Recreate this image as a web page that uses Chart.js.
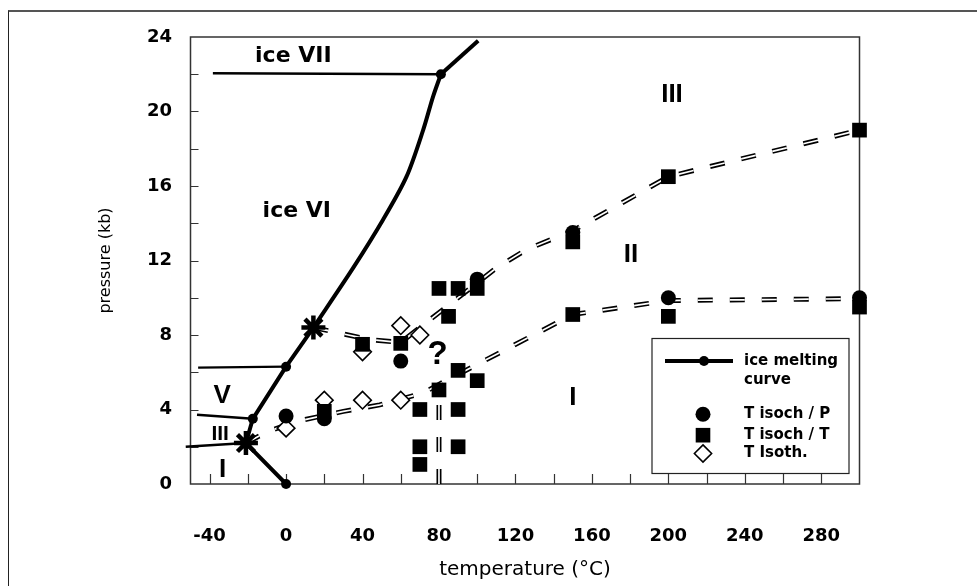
<!DOCTYPE html>
<html><head><meta charset="utf-8">
<script src="https://cdn.jsdelivr.net/npm/chart.js@4.4.1/dist/chart.umd.min.js"></script>
<style>
html,body{margin:0;padding:0;background:#fff;}
#wrap{position:relative;width:977px;height:586px;overflow:hidden;background:#fff;}
#frame{position:absolute;left:8px;top:10px;width:1000px;height:600px;border-left:1.5px solid #222;border-top:2px solid #555;}
canvas{position:absolute;left:0;top:0;}
</style></head><body>
<div id="wrap"><div id="frame"></div><canvas id="c" width="977" height="586"></canvas></div>
<script>
// ---- tick labels ----
const xTickLabels = [-40, 0, 40, 80, 120, 160, 200, 240, 280];
const xMinorTicks = [-40, -20, 0, 20, 40, 60, 80, 100, 120, 140, 160, 180, 200, 220, 240, 260, 280];
const yTickLabels = [0, 4, 8, 12, 16, 20, 24];
const yMinorTicks = [0, 2, 4, 6, 8, 10, 12, 14, 16, 18, 20, 22, 24];

// ---- ice melting curve (temperature °C, pressure kb) ----
const meltLowT = [0, -21, -17.4, 0, 14.3];
const meltLowP = [0, 2.2, 3.5, 6.3, 8.4];
const meltHighT = [14.3, 35.1, 50.8, 63, 71.7, 76.9, 81];
const meltHighP = [8.4, 11.6, 14.2, 16.5, 19.0, 20.8, 22.0];
const meltTopT = [81, 100.5];
const meltTopP = [22.0, 23.8];
const meltMarkT = [0, -17.4, 0, 81];
const meltMarkP = [0, 3.5, 6.3, 22.0];
const tripleT = [-21, 14.3];
const tripleP = [2.2, 8.4];

// ---- solid phase boundaries ----
const bVII_T = [-38.3, 81];   const bVII_P = [22.05, 22.0];
const bV_T = [-46, 0];        const bV_P = [6.25, 6.3];
const bIII_T = [-46.6, -17.4];const bIII_P = [3.72, 3.5];
const bI_T = [-52.5, -21];    const bI_P = [2.0, 2.2];

// ---- dashed double boundaries ----
const lowT = [-21, -10, 5, 30, 49, 72, 80, 150, 200, 300];
const lowP = [2.2, 2.8, 3.35, 3.9, 4.25, 4.9, 5.35, 9.1, 9.85, 9.95];
const upT = [14.3, 44, 60, 100, 110, 126, 150, 200, 300];
const upP = [8.4, 7.75, 7.6, 10.8, 11.6, 12.6, 13.6, 16.5, 19.0];
const vertT = [80, 80];
const vertP = [0, 5];

// ---- measured points ----
const circT = [0, 20, 60, 100, 150, 200, 300];
const circP = [3.65, 3.5, 6.6, 11.0, 13.5, 10.0, 10.0];
const sqT = [20, 40, 60, 70, 70, 70, 80, 80, 85, 90, 90, 90, 90, 100, 100, 150, 150, 200, 200, 300, 300];
const sqP = [3.9, 7.5, 7.55, 4.0, 2.0, 1.05, 10.5, 5.05, 9.0, 10.5, 6.1, 4.0, 2.0, 10.5, 5.55, 13.0, 9.1, 16.5, 9.0, 19.0, 9.5];
const diaT = [0, 20, 40, 40, 60, 60, 70];
const diaP = [3.0, 4.5, 7.1, 4.5, 8.5, 4.5, 8.0];

// ---- region labels ----
const regionText = ['ice VII', 'ice VI', 'V', 'III', 'I', '?', 'III', 'II', 'I'];
const regionT = [3.8, 5.6, -33.4, -34.5, -33.2, 79.2, 201.9, 180.5, 150];
const regionP = [22.95, 14.63, 4.76, 2.70, 0.77, 6.94, 20.9, 12.3, 4.6];

const legendNames = ['ice melting', 'curve', 'T isoch / P', 'T isoch / T', 'T Isoth.'];

const pts = (T, P) => T.map((t, i) => ({x: t, y: P[i]}));

function labelFont(s, t) {
  if (s.startsWith('ice')) return 'bold 22px "DejaVu Sans"';
  if (s === '?') return 'bold 33px "Liberation Sans"';
  if (s === 'III' && t < 0) return 'bold 21px "Liberation Sans"';
  return 'bold 26px "Liberation Sans"';
}

const solid = (T, P, w, extra) => Object.assign({data: pts(T, P), showLine: true, borderColor: '#000', borderWidth: w, pointRadius: 0, fill: false, order: 5, borderJoinStyle: 'round'}, extra || {});
const DASH = [15, 17];
const dashBlack = (T, P) => ({data: pts(T, P), showLine: true, borderColor: '#000', borderWidth: 5, borderDash: DASH, pointRadius: 0, fill: false, order: 4});
const dashWhite = (T, P) => ({data: pts(T, P), showLine: true, borderColor: '#fff', borderWidth: 1.7, borderDash: DASH, pointRadius: 0, fill: false, order: 3});

const decor = {
  id: 'decor',
  beforeDatasetsDraw(chart) {
    const {ctx, chartArea: a, scales: {x, y}} = chart;
    ctx.save();
    ctx.strokeStyle = '#333'; ctx.lineWidth = 1.5;
    ctx.strokeRect(a.left, a.top, a.right - a.left, a.bottom - a.top);
    ctx.beginPath();
    x.ticks.forEach(t => {
      if (t.value > x.min && t.value < x.max) {
        const px = Math.round(x.getPixelForValue(t.value)) + 0.5;
        ctx.moveTo(px, a.bottom); ctx.lineTo(px, a.bottom - 10);
      }
    });
    y.ticks.forEach(t => {
      if (t.value > y.min && t.value < y.max) {
        const py = Math.round(y.getPixelForValue(t.value)) + 0.5;
        ctx.moveTo(a.left, py); ctx.lineTo(a.left + 8, py);
      }
    });
    ctx.lineWidth = 1.2; ctx.stroke();
    ctx.restore();
  },
  afterDatasetsDraw(chart) {
    const {ctx, scales: {x, y}} = chart;
    ctx.save();
    ctx.fillStyle = '#000'; ctx.textAlign = 'center'; ctx.textBaseline = 'middle';
    regionText.forEach((s, i) => {
      ctx.font = labelFont(s, regionT[i]);
      ctx.fillText(s, x.getPixelForValue(regionT[i]), y.getPixelForValue(regionP[i]));
    });
    // legend
    const L = 652, T = 338.5, W = 197, H = 135;
    ctx.fillStyle = '#fff'; ctx.fillRect(L, T, W, H);
    ctx.strokeStyle = '#222'; ctx.lineWidth = 1.2; ctx.strokeRect(L, T, W, H);
    ctx.fillStyle = '#000'; ctx.strokeStyle = '#000';
    const mx = L + 51;
    ctx.lineWidth = 4; ctx.beginPath(); ctx.moveTo(L + 13, T + 22.5); ctx.lineTo(L + 81, T + 22.5); ctx.stroke();
    ctx.beginPath(); ctx.arc(mx + 1, T + 22.5, 5, 0, Math.PI * 2); ctx.fill();
    ctx.beginPath(); ctx.arc(mx, T + 75.7, 7.5, 0, Math.PI * 2); ctx.fill();
    ctx.fillRect(mx - 7.3, T + 96.7 - 7.3, 14.6, 14.6);
    ctx.beginPath(); const dy = T + 115, r = 8.6;
    ctx.moveTo(mx, dy - r); ctx.lineTo(mx + r, dy); ctx.lineTo(mx, dy + r); ctx.lineTo(mx - r, dy); ctx.closePath();
    ctx.fillStyle = '#fff'; ctx.fill(); ctx.lineWidth = 1.6; ctx.stroke();
    ctx.fillStyle = '#000'; ctx.font = 'bold 15px "DejaVu Sans"'; ctx.textAlign = 'left';
    const ty = [T + 22.5, T + 42, T + 75.7, T + 96.7, T + 115];
    legendNames.forEach((s, i) => ctx.fillText(s, L + 92, ty[i]));
    ctx.restore();
  }
};

new Chart(document.getElementById('c'), {
  type: 'scatter',
  data: {
    datasets: [
      {data: pts(circT, circP), pointStyle: 'circle', pointRadius: 7.5, backgroundColor: '#000', borderColor: '#000', pointBorderWidth: 0, order: 0, clip: false},
      {data: pts(sqT, sqP), pointStyle: 'rect', pointRadius: 10.4, backgroundColor: '#000', borderColor: '#000', pointBorderWidth: 0, order: 0, clip: false},
      {data: pts(diaT, diaP), pointStyle: 'rectRot', pointRadius: 8.8, backgroundColor: '#fff', borderColor: '#000', pointBorderWidth: 1.6, order: 0, clip: false},
      {data: pts(tripleT, tripleP), pointStyle: 'star', pointRadius: 12, backgroundColor: '#000', borderColor: '#000', pointBorderWidth: 4.5, order: 1, clip: false},
      {data: pts(meltMarkT, meltMarkP), pointStyle: 'circle', pointRadius: 5, backgroundColor: '#000', borderColor: '#000', pointBorderWidth: 0, order: 1, clip: false},
      solid(meltLowT, meltLowP, 4),
      solid(meltHighT, meltHighP, 4, {tension: 0.3}),
      solid(meltTopT, meltTopP, 4),
      solid(bVII_T, bVII_P, 2.6),
      solid(bV_T, bV_P, 2.4),
      solid(bIII_T, bIII_P, 2.4),
      solid(bI_T, bI_P, 2.4, {clip: false}),
      dashBlack(lowT, lowP), dashWhite(lowT, lowP),
      dashBlack(upT, upP), dashWhite(upT, upP),
      dashBlack(vertT, vertP), dashWhite(vertT, vertP)
    ]
  },
  options: {
    responsive: false,
    animation: false,
    devicePixelRatio: 1,
    layout: {padding: {left: 0, top: 37, right: 117.5, bottom: 0}},
    plugins: {legend: {display: false}, tooltip: {enabled: false}},
    elements: {line: {tension: 0}},
    scales: {
      x: {
        type: 'linear', min: -50, max: 300,
        afterBuildTicks: s => { s.ticks = xMinorTicks.map(v => ({value: v})); },
        afterFit: s => { s.height = 102; },
        grid: {display: false, drawTicks: false},
        border: {display: false},
        ticks: {autoSkip: false, maxRotation: 0, padding: 42, color: '#000',
          font: {family: 'DejaVu Sans', size: 18, weight: 'bold'},
          callback: v => xTickLabels.includes(v) ? String(v) : ''},
        title: {display: true, text: 'temperature (°C)', color: '#000',
          font: {family: 'DejaVu Sans', size: 20}, padding: {top: 0, bottom: 4}}
      },
      y: {
        type: 'linear', min: 0, max: 24,
        afterBuildTicks: s => { s.ticks = yMinorTicks.map(v => ({value: v})); },
        afterFit: s => { s.width = 190.5; },
        grid: {display: false, drawTicks: false},
        border: {display: false},
        ticks: {autoSkip: false, padding: 18.5, color: '#000',
          font: {family: 'DejaVu Sans', size: 18, weight: 'bold'},
          callback: v => yTickLabels.includes(v) ? String(v) : ''},
        title: {display: true, text: 'pressure (kb)', color: '#000',
          font: {family: 'DejaVu Sans', size: 16}, padding: {top: 96, bottom: 0}}
      }
    }
  },
  plugins: [decor]
});
</script>
</body></html>
